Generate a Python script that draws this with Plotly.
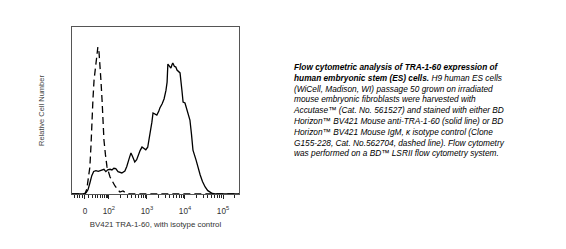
import plotly.graph_objects as go
import math

# Display positions on the biexponential axis (in decades) and relative counts
solid_x = [1.03, 1.34, 1.40, 1.45, 1.50, 1.55, 1.60, 1.66, 1.72, 1.80, 1.87, 1.92, 1.97, 2.03, 2.08,
           2.13, 2.18, 2.24, 2.29, 2.34, 2.42, 2.47, 2.53, 2.58, 2.63, 2.68, 2.73, 2.76, 2.82, 2.87,
           2.92, 2.97, 3.02, 3.08, 3.13, 3.16, 3.21, 3.26, 3.31, 3.34, 3.40, 3.45, 3.50, 3.53, 3.55,
           3.59, 3.63, 3.66, 3.68, 3.72, 3.76, 3.79, 3.82, 3.87, 3.92, 3.95, 4.00, 4.05, 4.13, 4.17,
           4.21, 4.29, 4.35, 4.40, 4.46, 4.53, 4.60, 4.66, 4.72, 4.80, 5.42]
solid_y = [0, 0, 0.8, 2.5, 6.6, 11, 13.5, 14.0, 13.6, 14.2, 14.8, 13.4, 14.5, 14.8, 14.4,
           15.4, 15.2, 13.4, 12.8, 12.6, 13.8, 16.5, 21, 24.6, 22, 19.2, 20.5, 22.8, 26, 28.1,
           27.5, 26.5, 28, 35.3, 43, 48.5, 48.0, 47.3, 49.5, 51.5, 54, 56.9, 62, 67, 77.8,
           76.5, 75.4, 77.5, 78.4, 76.5, 76.0, 74.2, 73.5, 72.5, 62, 55.1, 54.5, 50, 44.3, 36,
           26.3, 20.4, 15, 11.4, 7.5, 4.2, 2.0, 1.0, 0.3, 0, 0]

dashed_x = [1.03, 1.37, 1.42, 1.46, 1.50, 1.53, 1.55, 1.58, 1.61, 1.65, 1.68, 1.71, 1.74, 1.76,
            1.79, 1.82, 1.84, 1.87, 1.91, 1.95, 2.03, 2.08, 2.16, 2.24, 2.29, 2.37, 2.45, 2.55, 5.42]
dashed_y = [0, 0, 3.0, 8.4, 16.2, 29.3, 42.5, 56.3, 68.3, 77.2, 84.4, 88.0, 85.0, 80.2,
            68.3, 56.3, 44.3, 32.3, 23.4, 16.2, 10.2, 7.8, 4.8, 2.4, 1.2, 1.8, 0.6, 0, 0]

tick_vals = [1.37, 2, 3, 4, 5]
tick_text = ["0", "10<sup>2</sup>", "10<sup>3</sup>", "10<sup>4</sup>", "10<sup>5</sup>"]

minor_vals = [1.10, 1.17, 1.24, 1.30, 1.47, 1.56, 1.64, 1.71, 1.77, 1.83, 1.88, 1.93, 1.97]
for dec in (2, 3, 4, 5):
    for k in range(2, 10):
        v = dec + math.log10(k)
        if v < 5.42:
            minor_vals.append(v)

FONT = "Liberation Sans, Arial, sans-serif"

fig = go.Figure()
fig.add_trace(go.Scatter(x=dashed_x, y=dashed_y, mode="lines",
                         line=dict(color="black", width=1.3, dash="7px,4px"), showlegend=False))
fig.add_trace(go.Scatter(x=solid_x, y=solid_y, mode="lines",
                         line=dict(color="black", width=1.3), showlegend=False))
# invisible trace on secondary axis for minor ticks
fig.add_trace(go.Scatter(x=[1.03, 5.42], y=[0, 0], mode="lines", xaxis="x2",
                         line=dict(color="rgba(0,0,0,0)"), showlegend=False, hoverinfo="skip"))

caption = ("<b><i>Flow cytometric analysis of TRA-1-60 expression of<br>"
           "human embryonic stem (ES) cells.</i></b><i> H9 human ES cells<br>"
           "(WiCell, Madison, WI) passage 50 grown on irradiated<br>"
           "mouse embryonic fibroblasts were harvested with<br>"
           "Accutase™ (Cat. No. 561527) and stained with either BD<br>"
           "Horizon™ BV421 Mouse anti-TRA-1-60 (solid line) or BD<br>"
           "Horizon™ BV421 Mouse IgM, κ isotype control (Clone<br>"
           "G155-228, Cat. No.562704, dashed line). Flow cytometry<br>"
           "was performed on a BD™ LSRII flow cytometry system.</i>")

fig.update_layout(
    width=566, height=249,
    margin=dict(l=72, r=327, t=27, b=55),
    paper_bgcolor="white", plot_bgcolor="white",
    font=dict(family=FONT, size=7.8, color="#333"),
    xaxis=dict(range=[1.03, 5.42], showgrid=False, zeroline=False,
               showline=True, linecolor="#555", linewidth=1, mirror=True,
               tickmode="array", tickvals=tick_vals, ticktext=tick_text,
               ticks="outside", ticklen=4, tickcolor="#222", tickwidth=1,
               ticklabelstandoff=5,
               tickfont=dict(size=8.2, color="#333"),
               title=dict(text="BV421 TRA-1-60, with isotype control",
                          font=dict(size=7.9, color="#333"), standoff=6)),
    xaxis2=dict(range=[1.03, 5.42], overlaying="x", side="bottom", anchor="y",
                showgrid=False, zeroline=False, showline=False,
                tickmode="array", tickvals=minor_vals, showticklabels=False,
                ticks="outside", ticklen=2.5, tickcolor="#222", tickwidth=1),
    yaxis=dict(range=[0, 100], showgrid=False, zeroline=False,
               showline=True, linecolor="#555", linewidth=1, mirror=True,
               showticklabels=False, ticks="",
               title=dict(text="Relative Cell Number", font=dict(size=7.5, color="#444"),
                          standoff=25)),
    annotations=[dict(text=caption, xref="paper", yref="paper", x=1.311, y=0.80,
                      xanchor="left", yanchor="top", align="left", showarrow=False,
                      font=dict(family=FONT, size=8.3, color="black"))],
)

fig.write_html("out.html")
